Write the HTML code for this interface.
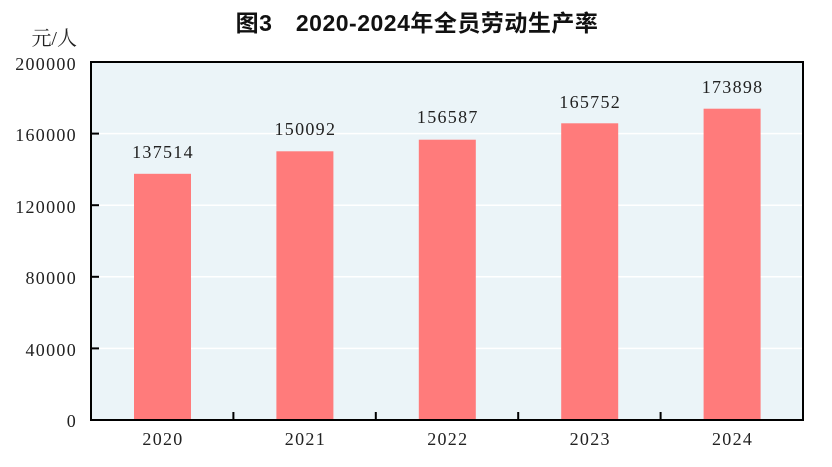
<!DOCTYPE html>
<html><head><meta charset="utf-8"><style>body{margin:0;background:#fff}</style></head><body>
<svg width="832" height="462" xmlns="http://www.w3.org/2000/svg">
<text x="417" y="31" text-anchor="middle" font-family="'Liberation Sans','Noto Sans CJK SC',sans-serif" font-size="23" font-weight="bold" letter-spacing="0.5" fill="#111">图3　2020-2024年全员劳动生产率</text>
<text x="77" y="45" text-anchor="end" font-family="'Liberation Serif','Noto Serif CJK SC',serif" font-size="20" fill="#222">元/人</text>
<rect x="91" y="62" width="712" height="358" fill="#ebf4f8" stroke="#000" stroke-width="2"/>
<g stroke="#fff" stroke-width="1.5">
<line x1="99" y1="133.6" x2="802" y2="133.6"/><line x1="99" y1="205.2" x2="802" y2="205.2"/>
<line x1="99" y1="276.8" x2="802" y2="276.8"/><line x1="99" y1="348.4" x2="802" y2="348.4"/>
</g>
<g fill="#ff7b7b">
<rect x="134" y="173.8" width="57" height="246.2"/>
<rect x="276.4" y="151.3" width="57" height="268.7"/>
<rect x="418.8" y="139.7" width="57" height="280.3"/>
<rect x="561.2" y="123.3" width="57" height="296.7"/>
<rect x="703.6" y="108.7" width="57" height="311.3"/>
</g>
<g stroke="#000" stroke-width="2">
<line x1="91" y1="133.6" x2="99" y2="133.6"/><line x1="91" y1="205.2" x2="99" y2="205.2"/>
<line x1="91" y1="276.8" x2="99" y2="276.8"/><line x1="91" y1="348.4" x2="99" y2="348.4"/>
<line x1="233.4" y1="420" x2="233.4" y2="412"/><line x1="375.8" y1="420" x2="375.8" y2="412"/>
<line x1="518.2" y1="420" x2="518.2" y2="412"/><line x1="660.6" y1="420" x2="660.6" y2="412"/>
<line x1="90" y1="420" x2="804" y2="420"/>
</g>
<g font-family="'Liberation Serif',serif" font-size="18" letter-spacing="1.3" fill="#222" text-anchor="end">
<text x="77" y="70">200000</text><text x="77" y="141">160000</text><text x="77" y="213">120000</text>
<text x="77" y="284">80000</text><text x="77" y="356">40000</text><text x="77" y="427">0</text>
</g>
<g font-family="'Liberation Serif',serif" font-size="18" letter-spacing="1.3" fill="#222" text-anchor="middle">
<text x="163" y="158">137514</text><text x="305.4" y="135">150092</text><text x="447.8" y="123">156587</text>
<text x="590.2" y="108">165752</text><text x="732.6" y="93">173898</text>
<text x="163" y="445">2020</text><text x="305.4" y="445">2021</text><text x="447.8" y="445">2022</text>
<text x="590.2" y="445">2023</text><text x="732.6" y="445">2024</text>
</g>
</svg>
</body></html>
